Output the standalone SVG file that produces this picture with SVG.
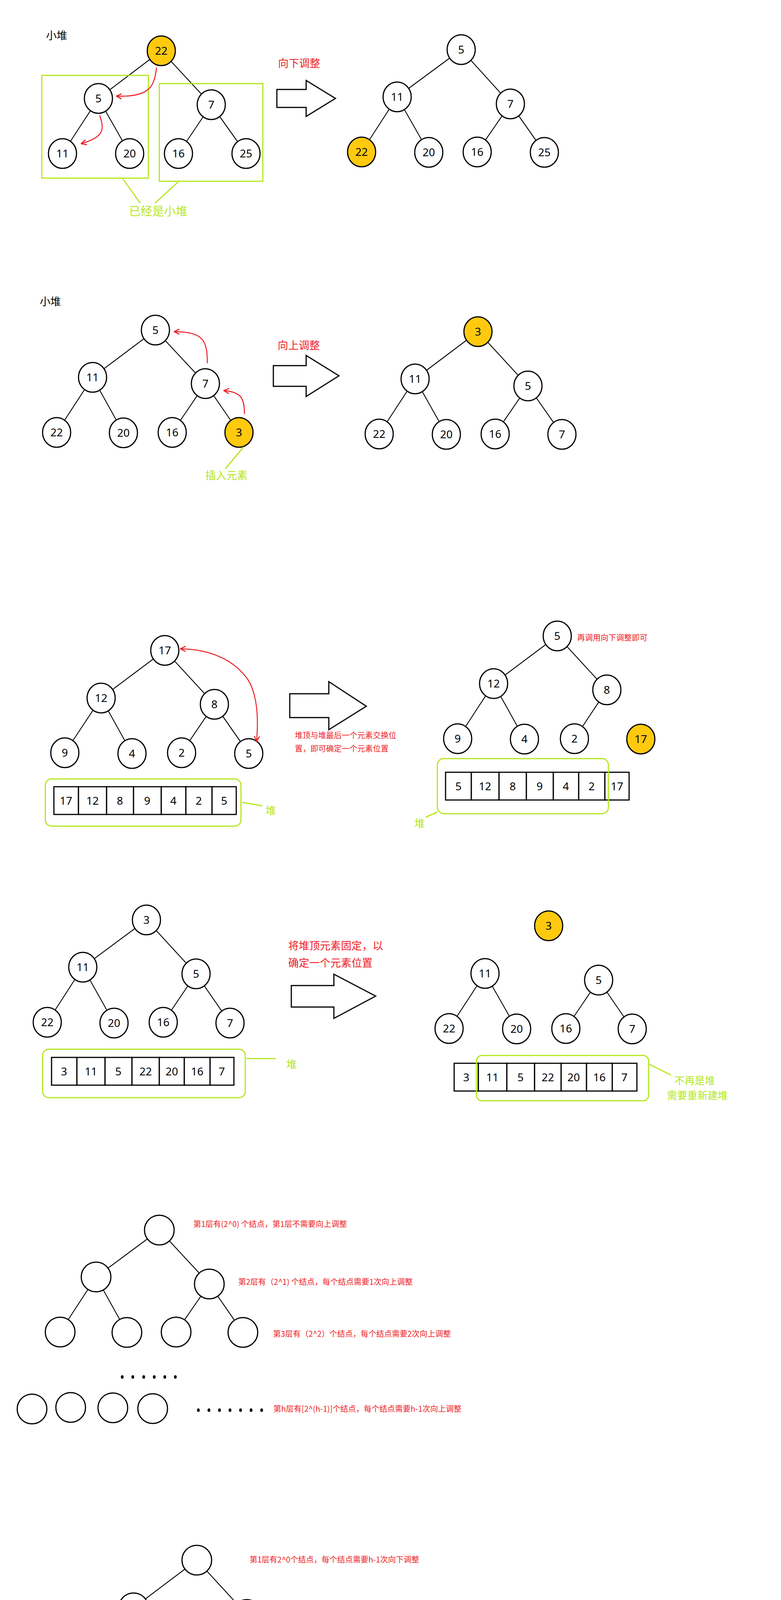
<svg xmlns="http://www.w3.org/2000/svg" width="2000" height="6000" viewBox="0 0 2000 6000">
<style>
.bg{fill:#ffffff}
.n{fill:#ffffff;stroke:#000;stroke-width:3}
.y{fill:#FFC90E}
.p{fill:#FFAEC9}
.e line{stroke:#000;stroke-width:2.2}
.nt{font-family:"Noto Sans","Noto Sans CJK SC",sans-serif;font-size:28px;text-anchor:middle;fill:#000}
.cell{fill:#fff;stroke:#000;stroke-width:3}
.gb{fill:none;stroke:#B5E61D;stroke-width:3}
.gl{stroke:#B5E61D;stroke-width:3;fill:none}
.ra{fill:none;stroke:#ED1C24;stroke-width:2.5}
.big{fill:#fff;stroke:#000;stroke-width:3;stroke-linejoin:miter}
.cj{font-family:"Noto Sans CJK SC","Noto Sans",sans-serif}
.lb{font-size:27px}
.sm{font-size:20px}
.red{fill:#ED1C24}
.grn{fill:#B5E61D}
.org{fill:#FF7F27}
.blk{fill:#000}
.dot{fill:#000}
</style>
<defs>
<marker id="ah" viewBox="0 0 12 12" refX="11" refY="6" markerWidth="16" markerHeight="16" markerUnits="userSpaceOnUse" orient="auto-start-reverse"><path d="M1,1 L11,6 L1,11" fill="none" stroke="#ED1C24" stroke-width="2"/></marker>
</defs>
<rect class="bg" x="0" y="0" width="2000" height="6000"/>

<!-- ============ SECTION 1 ============ -->
<text class="cj lb blk" x="118" y="101">小堆</text>
<g id="s1-conn" class="e">
<line x1="413" y1="130" x2="252" y2="252"/><line x1="413" y1="130" x2="541" y2="268"/>
<line x1="252" y1="252" x2="160" y2="393"/><line x1="252" y1="252" x2="332" y2="393"/>
<line x1="541" y1="268" x2="457" y2="393"/><line x1="541" y1="268" x2="630" y2="393"/>
<line x1="1181" y1="127" x2="1017" y2="248"/><line x1="1181" y1="127" x2="1307" y2="266"/>
<line x1="1017" y1="248" x2="926" y2="389"/><line x1="1017" y1="248" x2="1098" y2="390"/>
<line x1="1307" y1="266" x2="1222" y2="389"/><line x1="1307" y1="266" x2="1394" y2="390"/>
</g>
<g id="s1-l-22"><ellipse class="n y" cx="413" cy="130" rx="36" ry="38"/><text class="nt" x="413" y="140">22</text></g>
<g id="s1-l-5"><ellipse class="n" cx="252" cy="252" rx="36" ry="38"/><text class="nt" x="252" y="262">5</text></g>
<g id="s1-l-7"><ellipse class="n" cx="541" cy="268" rx="36" ry="38"/><text class="nt" x="541" y="278">7</text></g>
<g id="s1-l-11"><ellipse class="n" cx="160" cy="393" rx="36" ry="38"/><text class="nt" x="160" y="403">11</text></g>
<g id="s1-l-20"><ellipse class="n" cx="332" cy="393" rx="36" ry="38"/><text class="nt" x="332" y="403">20</text></g>
<g id="s1-l-16"><ellipse class="n" cx="457" cy="393" rx="36" ry="38"/><text class="nt" x="457" y="403">16</text></g>
<g id="s1-l-25"><ellipse class="n" cx="630" cy="393" rx="36" ry="38"/><text class="nt" x="630" y="403">25</text></g>
<g id="s1-r-5"><ellipse class="n" cx="1181" cy="127" rx="36" ry="38"/><text class="nt" x="1181" y="137">5</text></g>
<g id="s1-r-11"><ellipse class="n" cx="1017" cy="248" rx="36" ry="38"/><text class="nt" x="1017" y="258">11</text></g>
<g id="s1-r-7"><ellipse class="n" cx="1307" cy="266" rx="36" ry="38"/><text class="nt" x="1307" y="276">7</text></g>
<g id="s1-r-22"><ellipse class="n y" cx="926" cy="389" rx="36" ry="38"/><text class="nt" x="926" y="399">22</text></g>
<g id="s1-r-20"><ellipse class="n" cx="1098" cy="390" rx="36" ry="38"/><text class="nt" x="1098" y="400">20</text></g>
<g id="s1-r-16"><ellipse class="n" cx="1222" cy="389" rx="36" ry="38"/><text class="nt" x="1222" y="399">16</text></g>
<g id="s1-r-25"><ellipse class="n" cx="1394" cy="390" rx="36" ry="38"/><text class="nt" x="1394" y="400">25</text></g>
<g id="s1-anno">
<rect class="gb" x="107" y="193" width="273" height="263"/>
<rect class="gb" x="408" y="214" width="265" height="250"/>
<line class="gl" x1="314" y1="457" x2="359" y2="520"/>
<line class="gl" x1="457" y1="465" x2="397" y2="520"/>
<text class="cj grn" style="font-size:30px" x="330" y="551">已经是小堆</text>
<path class="ra" d="M401,173 C395,215 390,250 298,246" marker-end="url(#ah)"/>
<path class="ra" d="M255,295 C270,335 262,352 208,368" marker-end="url(#ah)"/>
<text class="cj lb red" x="712" y="172">向下调整</text>
<polygon class="big" points="709,229 784,229 784,206 859,252 784,298 784,275 709,275"/>
</g>

<!-- ============ SECTION 2 ============ -->
<text class="cj lb blk" x="102" y="782">小堆</text>
<g id="s2-conn" class="e">
<line x1="398" y1="845" x2="237" y2="966"/><line x1="398" y1="845" x2="526" y2="982"/>
<line x1="237" y1="966" x2="145" y2="1107"/><line x1="237" y1="966" x2="316" y2="1108"/>
<line x1="526" y1="982" x2="441" y2="1107"/><line x1="526" y1="982" x2="612" y2="1107"/>
<line x1="1224" y1="849" x2="1063" y2="970"/><line x1="1224" y1="849" x2="1352" y2="988"/>
<line x1="1063" y1="970" x2="971" y2="1111"/><line x1="1063" y1="970" x2="1143" y2="1112"/>
<line x1="1352" y1="988" x2="1268" y2="1111"/><line x1="1352" y1="988" x2="1439" y2="1112"/>
</g>
<g id="s2-l-5"><ellipse class="n" cx="398" cy="845" rx="36" ry="38"/><text class="nt" x="398" y="855">5</text></g>
<g id="s2-l-11"><ellipse class="n" cx="237" cy="966" rx="36" ry="38"/><text class="nt" x="237" y="976">11</text></g>
<g id="s2-l-7"><ellipse class="n" cx="526" cy="982" rx="36" ry="38"/><text class="nt" x="526" y="992">7</text></g>
<g id="s2-l-22"><ellipse class="n" cx="145" cy="1107" rx="36" ry="38"/><text class="nt" x="145" y="1117">22</text></g>
<g id="s2-l-20"><ellipse class="n" cx="316" cy="1108" rx="36" ry="38"/><text class="nt" x="316" y="1118">20</text></g>
<g id="s2-l-16"><ellipse class="n" cx="441" cy="1107" rx="36" ry="38"/><text class="nt" x="441" y="1117">16</text></g>
<g id="s2-l-3"><ellipse class="n y" cx="612" cy="1107" rx="36" ry="38"/><text class="nt" x="612" y="1117">3</text></g>
<g id="s2-r-3"><ellipse class="n y" cx="1224" cy="849" rx="36" ry="38"/><text class="nt" x="1224" y="859">3</text></g>
<g id="s2-r-11"><ellipse class="n" cx="1063" cy="970" rx="36" ry="38"/><text class="nt" x="1063" y="980">11</text></g>
<g id="s2-r-5"><ellipse class="n" cx="1352" cy="988" rx="36" ry="38"/><text class="nt" x="1352" y="998">5</text></g>
<g id="s2-r-22"><ellipse class="n" cx="971" cy="1111" rx="36" ry="38"/><text class="nt" x="971" y="1121">22</text></g>
<g id="s2-r-20"><ellipse class="n" cx="1143" cy="1112" rx="36" ry="38"/><text class="nt" x="1143" y="1122">20</text></g>
<g id="s2-r-16"><ellipse class="n" cx="1268" cy="1111" rx="36" ry="38"/><text class="nt" x="1268" y="1121">16</text></g>
<g id="s2-r-7"><ellipse class="n" cx="1439" cy="1112" rx="36" ry="38"/><text class="nt" x="1439" y="1122">7</text></g>
<g id="s2-anno">
<path class="ra" d="M531,930 C531,870 520,850 446,849" marker-end="url(#ah)"/>
<path class="ra" d="M626,1060 C626,1020 618,1003 573,1000" marker-end="url(#ah)"/>
<line class="gl" x1="624" y1="1144" x2="577" y2="1200"/>
<text class="cj lb grn" x="526" y="1227">插入元素</text>
<text class="cj lb red" x="711" y="894">向上调整</text>
<polygon class="big" points="700,936 784,936 784,910 868,962 784,1015 784,989 700,989"/>
</g>

<!-- ============ SECTION 3 ============ -->
<g id="s3-conn" class="e">
<line x1="422" y1="1665" x2="259" y2="1787"/><line x1="422" y1="1665" x2="549" y2="1803"/>
<line x1="259" y1="1787" x2="166" y2="1927"/><line x1="259" y1="1787" x2="338" y2="1929"/>
<line x1="549" y1="1803" x2="465" y2="1927"/><line x1="549" y1="1803" x2="637" y2="1929"/>
<line x1="1427" y1="1628" x2="1264" y2="1750"/><line x1="1427" y1="1628" x2="1554" y2="1766"/>
<line x1="1264" y1="1750" x2="1172" y2="1891"/><line x1="1264" y1="1750" x2="1343" y2="1892"/>
<line x1="1554" y1="1766" x2="1471" y2="1891"/>
</g>
<g id="s3-l-17"><ellipse class="n" cx="422" cy="1665" rx="36" ry="38"/><text class="nt" x="422" y="1675">17</text></g>
<g id="s3-l-12"><ellipse class="n" cx="259" cy="1787" rx="36" ry="38"/><text class="nt" x="259" y="1797">12</text></g>
<g id="s3-l-8"><ellipse class="n" cx="549" cy="1803" rx="36" ry="38"/><text class="nt" x="549" y="1813">8</text></g>
<g id="s3-l-9"><ellipse class="n" cx="166" cy="1927" rx="36" ry="38"/><text class="nt" x="166" y="1937">9</text></g>
<g id="s3-l-4"><ellipse class="n" cx="338" cy="1929" rx="36" ry="38"/><text class="nt" x="338" y="1939">4</text></g>
<g id="s3-l-2"><ellipse class="n" cx="465" cy="1927" rx="36" ry="38"/><text class="nt" x="465" y="1937">2</text></g>
<g id="s3-l-5"><ellipse class="n" cx="637" cy="1929" rx="36" ry="38"/><text class="nt" x="637" y="1939">5</text></g>
<g id="s3-r-5"><ellipse class="n" cx="1427" cy="1628" rx="36" ry="38"/><text class="nt" x="1427" y="1638">5</text></g>
<g id="s3-r-12"><ellipse class="n" cx="1264" cy="1750" rx="36" ry="38"/><text class="nt" x="1264" y="1760">12</text></g>
<g id="s3-r-8"><ellipse class="n" cx="1554" cy="1766" rx="36" ry="38"/><text class="nt" x="1554" y="1776">8</text></g>
<g id="s3-r-9"><ellipse class="n" cx="1172" cy="1891" rx="36" ry="38"/><text class="nt" x="1172" y="1901">9</text></g>
<g id="s3-r-4"><ellipse class="n" cx="1343" cy="1892" rx="36" ry="38"/><text class="nt" x="1343" y="1902">4</text></g>
<g id="s3-r-2"><ellipse class="n" cx="1471" cy="1891" rx="36" ry="38"/><text class="nt" x="1471" y="1901">2</text></g>
<g id="s3-r-17"><ellipse class="n y" cx="1641" cy="1892" rx="36" ry="38"/><text class="nt" x="1641" y="1902">17</text></g>
<g id="s3-arr-l">
<rect class="cell p" x="138" y="2014" width="63" height="71"/><text class="nt" x="169" y="2060">17</text>
<rect class="cell" x="201" y="2014" width="72" height="71"/><text class="nt" x="237" y="2060">12</text>
<rect class="cell" x="273" y="2014" width="69" height="71"/><text class="nt" x="307" y="2060">8</text>
<rect class="cell" x="342" y="2014" width="71" height="71"/><text class="nt" x="377" y="2060">9</text>
<rect class="cell" x="413" y="2014" width="63" height="71"/><text class="nt" x="444" y="2060">4</text>
<rect class="cell" x="476" y="2014" width="67" height="71"/><text class="nt" x="509" y="2060">2</text>
<rect class="cell p" x="543" y="2014" width="62" height="71"/><text class="nt" x="574" y="2060">5</text>
</g>
<g id="s3-arr-r">
<rect class="cell" x="1141" y="1977" width="66" height="71"/><text class="nt" x="1174" y="2023">5</text>
<rect class="cell" x="1207" y="1977" width="71" height="71"/><text class="nt" x="1242" y="2023">12</text>
<rect class="cell" x="1278" y="1977" width="70" height="71"/><text class="nt" x="1313" y="2023">8</text>
<rect class="cell" x="1348" y="1977" width="69" height="71"/><text class="nt" x="1382" y="2023">9</text>
<rect class="cell" x="1417" y="1977" width="65" height="71"/><text class="nt" x="1449" y="2023">4</text>
<rect class="cell" x="1482" y="1977" width="67" height="71"/><text class="nt" x="1515" y="2023">2</text>
<rect class="cell y" x="1549" y="1977" width="62" height="71"/><text class="nt" x="1580" y="2023">17</text>
</g>
<g id="s3-anno">
<path class="ra" d="M462,1661 C540,1662 600,1690 635,1740 C660,1780 662,1840 657,1898" marker-start="url(#ah)" marker-end="url(#ah)"/>
<rect class="gb" x="116" y="1994" width="501" height="121" rx="16"/>
<line class="gl" x1="620" y1="2054" x2="672" y2="2063"/>
<text class="cj lb grn" x="680" y="2085">堆</text>
<rect class="gb" x="1120" y="1942" width="438" height="141" rx="16"/>
<line class="gl" x1="1120" y1="2079" x2="1090" y2="2092"/>
<text class="cj lb grn" x="1061" y="2118">堆</text>
<polygon class="big" points="742,1776 842,1776 842,1745 938,1808 842,1868 842,1837 742,1837"/>
<text class="cj sm red" x="755" y="1890">堆顶与堆最后一个元素交换位</text>
<text class="cj sm red" x="755" y="1924">置，即可确定一个元素位置</text>
<text class="cj sm red" x="1478" y="1640">再调用向下调整即可</text>
</g>

<!-- ============ SECTION 4 ============ -->
<g id="s4-conn" class="e">
<line x1="375" y1="2355" x2="212" y2="2476"/><line x1="375" y1="2355" x2="502" y2="2493"/>
<line x1="212" y1="2476" x2="121" y2="2617"/><line x1="212" y1="2476" x2="292" y2="2619"/>
<line x1="502" y1="2493" x2="418" y2="2617"/><line x1="502" y1="2493" x2="589" y2="2619"/>
<line x1="1242" y1="2492" x2="1150" y2="2633"/><line x1="1242" y1="2492" x2="1323" y2="2634"/>
<line x1="1533" y1="2509" x2="1449" y2="2633"/><line x1="1533" y1="2509" x2="1619" y2="2634"/>
</g>
<g id="s4-l-3"><ellipse class="n" cx="375" cy="2355" rx="36" ry="38"/><text class="nt" x="375" y="2365">3</text></g>
<g id="s4-l-11"><ellipse class="n" cx="212" cy="2476" rx="36" ry="38"/><text class="nt" x="212" y="2486">11</text></g>
<g id="s4-l-5"><ellipse class="n" cx="502" cy="2493" rx="36" ry="38"/><text class="nt" x="502" y="2503">5</text></g>
<g id="s4-l-22"><ellipse class="n" cx="121" cy="2617" rx="36" ry="38"/><text class="nt" x="121" y="2627">22</text></g>
<g id="s4-l-20"><ellipse class="n" cx="292" cy="2619" rx="36" ry="38"/><text class="nt" x="292" y="2629">20</text></g>
<g id="s4-l-16"><ellipse class="n" cx="418" cy="2617" rx="36" ry="38"/><text class="nt" x="418" y="2627">16</text></g>
<g id="s4-l-7"><ellipse class="n" cx="589" cy="2619" rx="36" ry="38"/><text class="nt" x="589" y="2629">7</text></g>
<g id="s4-r-3"><ellipse class="n y" cx="1405" cy="2370" rx="36" ry="38"/><text class="nt" x="1405" y="2380">3</text></g>
<g id="s4-r-11"><ellipse class="n" cx="1242" cy="2492" rx="36" ry="38"/><text class="nt" x="1242" y="2502">11</text></g>
<g id="s4-r-5"><ellipse class="n" cx="1533" cy="2509" rx="36" ry="38"/><text class="nt" x="1533" y="2519">5</text></g>
<g id="s4-r-22"><ellipse class="n" cx="1150" cy="2633" rx="36" ry="38"/><text class="nt" x="1150" y="2643">22</text></g>
<g id="s4-r-20"><ellipse class="n" cx="1323" cy="2634" rx="36" ry="38"/><text class="nt" x="1323" y="2644">20</text></g>
<g id="s4-r-16"><ellipse class="n" cx="1449" cy="2633" rx="36" ry="38"/><text class="nt" x="1449" y="2643">16</text></g>
<g id="s4-r-7"><ellipse class="n" cx="1619" cy="2634" rx="36" ry="38"/><text class="nt" x="1619" y="2644">7</text></g>
<g id="s4-arr-l">
<rect class="cell" x="132" y="2707" width="65" height="71"/><text class="nt" x="164" y="2753">3</text>
<rect class="cell" x="197" y="2707" width="72" height="71"/><text class="nt" x="233" y="2753">11</text>
<rect class="cell" x="269" y="2707" width="69" height="71"/><text class="nt" x="303" y="2753">5</text>
<rect class="cell" x="338" y="2707" width="70" height="71"/><text class="nt" x="373" y="2753">22</text>
<rect class="cell" x="408" y="2707" width="64" height="71"/><text class="nt" x="440" y="2753">20</text>
<rect class="cell" x="472" y="2707" width="66" height="71"/><text class="nt" x="505" y="2753">16</text>
<rect class="cell" x="538" y="2707" width="61" height="71"/><text class="nt" x="568" y="2753">7</text>
</g>
<g id="s4-arr-r">
<rect class="cell y" x="1163" y="2722" width="62" height="71"/><text class="nt" x="1194" y="2768">3</text>
<rect class="cell" x="1225" y="2722" width="73" height="71"/><text class="nt" x="1261" y="2768">11</text>
<rect class="cell" x="1298" y="2722" width="71" height="71"/><text class="nt" x="1333" y="2768">5</text>
<rect class="cell" x="1369" y="2722" width="68" height="71"/><text class="nt" x="1403" y="2768">22</text>
<rect class="cell" x="1437" y="2722" width="65" height="71"/><text class="nt" x="1469" y="2768">20</text>
<rect class="cell" x="1502" y="2722" width="66" height="71"/><text class="nt" x="1535" y="2768">16</text>
<rect class="cell" x="1568" y="2722" width="63" height="71"/><text class="nt" x="1599" y="2768">7</text>
</g>
<g id="s4-anno">
<rect class="gb" x="109" y="2686" width="519" height="124" rx="16"/>
<line class="gl" x1="631" y1="2710" x2="706" y2="2710"/>
<text class="cj lb grn" x="733" y="2735">堆</text>
<rect class="gb" x="1220" y="2702" width="441" height="116" rx="14"/>
<line class="gl" x1="1662" y1="2724" x2="1718" y2="2752"/>
<text class="cj grn" style="font-size:26px" x="1727" y="2776">不再是堆</text>
<text class="cj grn" style="font-size:26px" x="1708" y="2814">需要重新建堆</text>
<text class="cj lb red" x="738" y="2431">将堆顶元素固定，以</text>
<text class="cj lb red" x="738" y="2475">确定一个元素位置</text>
<polygon class="big" points="746,2523 855,2523 855,2494 962,2550 855,2607 855,2578 746,2578"/>
</g>

<!-- ============ SECTION 5 ============ -->
<g id="s5-conn" class="e">
<line x1="408" y1="3149" x2="246" y2="3269"/><line x1="408" y1="3149" x2="536" y2="3287"/>
<line x1="246" y1="3269" x2="154" y2="3410"/><line x1="246" y1="3269" x2="325" y2="3411"/>
<line x1="536" y1="3287" x2="451" y2="3410"/><line x1="536" y1="3287" x2="622" y2="3411"/>
</g>
<g id="s5-nodes">
<ellipse id="s5-n1" class="n" cx="408" cy="3149" rx="38" ry="38"/>
<ellipse id="s5-n2" class="n" cx="246" cy="3269" rx="38" ry="38"/>
<ellipse id="s5-n3" class="n" cx="536" cy="3287" rx="38" ry="38"/>
<ellipse id="s5-n4" class="n" cx="154" cy="3410" rx="38" ry="38"/>
<ellipse id="s5-n5" class="n" cx="325" cy="3411" rx="38" ry="38"/>
<ellipse id="s5-n6" class="n" cx="451" cy="3410" rx="38" ry="38"/>
<ellipse id="s5-n7" class="n" cx="622" cy="3411" rx="38" ry="38"/>
<ellipse id="s5-n8" class="n" cx="82" cy="3607" rx="38" ry="38"/>
<ellipse id="s5-n9" class="n" cx="181" cy="3603" rx="38" ry="38"/>
<ellipse id="s5-n10" class="n" cx="289" cy="3604" rx="38" ry="38"/>
<ellipse id="s5-n11" class="n" cx="391" cy="3606" rx="38" ry="38"/>
</g>
<g id="s5-dots" class="dot">
<ellipse cx="313" cy="3525" rx="3.5" ry="4.5"/><ellipse cx="340" cy="3525" rx="3.5" ry="4.5"/><ellipse cx="368" cy="3525" rx="3.5" ry="4.5"/><ellipse cx="395" cy="3525" rx="3.5" ry="4.5"/><ellipse cx="422" cy="3525" rx="3.5" ry="4.5"/><ellipse cx="449" cy="3525" rx="3.5" ry="4.5"/>
<ellipse cx="508" cy="3610" rx="3.5" ry="4.5"/><ellipse cx="535" cy="3610" rx="3.5" ry="4.5"/><ellipse cx="562" cy="3610" rx="3.5" ry="4.5"/><ellipse cx="589" cy="3610" rx="3.5" ry="4.5"/><ellipse cx="616" cy="3610" rx="3.5" ry="4.5"/><ellipse cx="643" cy="3610" rx="3.5" ry="4.5"/><ellipse cx="670" cy="3610" rx="3.5" ry="4.5"/>
</g>
<g id="s5-text" class="cj sm red">
<text x="495" y="3141">第1层有(2^0) 个结点，第1层不需要向上调整</text>
<text x="610" y="3289">第2层有（2^1) 个结点，每个结点需要1次向上调整</text>
<text x="699" y="3422">第3层有（2^2）个结点，每个结点需要2次向上调整</text>
<text x="700" y="3614">第h层有[2^(h-1)]个结点，每个结点需要h-1次向上调整</text>
</g>

<!-- ============ SECTION 6 ============ -->
<g id="s6-conn" class="e">
<line x1="504" y1="3994" x2="342" y2="4116"/><line x1="504" y1="3994" x2="632" y2="4133"/>
<line x1="342" y1="4116" x2="251" y2="4257"/><line x1="342" y1="4116" x2="422" y2="4258"/>
<line x1="632" y1="4133" x2="548" y2="4257"/><line x1="632" y1="4133" x2="719" y2="4258"/>
<line x1="143" y1="4448" x2="86" y2="4589"/><line x1="143" y1="4448" x2="185" y2="4585"/>
<line x1="342" y1="4447" x2="294" y2="4587"/><line x1="342" y1="4447" x2="395" y2="4589"/>
<line x1="550" y1="4446" x2="498" y2="4589"/><line x1="550" y1="4446" x2="599" y2="4591"/>
</g>
<g id="s6-nodes">
<ellipse id="s6-n1" class="n" cx="504" cy="3994" rx="38" ry="38"/>
<ellipse id="s6-n2" class="n" cx="342" cy="4116" rx="38" ry="38"/>
<ellipse id="s6-n3" class="n" cx="632" cy="4133" rx="38" ry="38"/>
<ellipse id="s6-n4" class="n" cx="251" cy="4257" rx="38" ry="38"/>
<ellipse id="s6-n5" class="n" cx="422" cy="4258" rx="38" ry="38"/>
<ellipse id="s6-n6" class="n" cx="548" cy="4257" rx="38" ry="38"/>
<ellipse id="s6-n7" class="n" cx="719" cy="4258" rx="38" ry="38"/>
<ellipse id="s6-n8" class="n" cx="143" cy="4448" rx="38" ry="38"/>
<ellipse id="s6-n9" class="n" cx="342" cy="4447" rx="38" ry="38"/>
<ellipse id="s6-n10" class="n" cx="550" cy="4446" rx="38" ry="38"/>
<ellipse id="s6-n11" class="n" cx="86" cy="4589" rx="38" ry="38"/>
<ellipse id="s6-n12" class="n" cx="185" cy="4585" rx="38" ry="38"/>
<ellipse id="s6-n13" class="n" cx="294" cy="4587" rx="38" ry="38"/>
<ellipse id="s6-n14" class="n" cx="395" cy="4589" rx="38" ry="38"/>
<ellipse id="s6-n15" class="n" cx="498" cy="4589" rx="38" ry="38"/>
<ellipse id="s6-n16" class="n" cx="599" cy="4591" rx="38" ry="38"/>
</g>
<g id="s6-dots" class="dot">
<ellipse cx="410" cy="4372" rx="3.5" ry="4.5"/><ellipse cx="437" cy="4372" rx="3.5" ry="4.5"/><ellipse cx="464" cy="4372" rx="3.5" ry="4.5"/><ellipse cx="492" cy="4372" rx="3.5" ry="4.5"/><ellipse cx="519" cy="4372" rx="3.5" ry="4.5"/><ellipse cx="546" cy="4372" rx="3.5" ry="4.5"/>
<ellipse cx="612" cy="4446" rx="3.5" ry="4.5"/><ellipse cx="639" cy="4446" rx="3.5" ry="4.5"/><ellipse cx="666" cy="4446" rx="3.5" ry="4.5"/><ellipse cx="693" cy="4446" rx="3.5" ry="4.5"/><ellipse cx="721" cy="4446" rx="3.5" ry="4.5"/><ellipse cx="748" cy="4446" rx="3.5" ry="4.5"/><ellipse cx="775" cy="4446" rx="3.5" ry="4.5"/>
<ellipse cx="682" cy="4589" rx="3.5" ry="4.5"/><ellipse cx="709" cy="4589" rx="3.5" ry="4.5"/><ellipse cx="736" cy="4589" rx="3.5" ry="4.5"/><ellipse cx="763" cy="4589" rx="3.5" ry="4.5"/><ellipse cx="791" cy="4589" rx="3.5" ry="4.5"/><ellipse cx="818" cy="4589" rx="3.5" ry="4.5"/><ellipse cx="845" cy="4589" rx="3.5" ry="4.5"/>
</g>
<g id="s6-text" class="cj sm red">
<text x="639" y="4000">第1层有2^0个结点，每个结点需要h-1次向下调整</text>
<text x="771" y="4146">第2层有2^1个结点，每个结点需要h-2向下调整</text>
<text x="821" y="4267">第3层有2^2个结点，每个结点需要h-3次向下调整</text>
<text x="835" y="4454">第h-1层有2^(h-2)个结点，每个结点需要1次向下调整</text>
<text x="924" y="4598">第h层有2^(h-1)个结点，最后一层不需要向下调整</text>
</g>

<!-- ============ SECTION 7 ============ -->
<g id="s7-conn" class="e">
<line x1="532" y1="4804" x2="369" y2="4925"/><line x1="532" y1="4804" x2="659" y2="4943"/>
<line x1="369" y1="4925" x2="278" y2="5066"/><line x1="369" y1="4925" x2="449" y2="5067"/>
<line x1="659" y1="4943" x2="574" y2="5066"/><line x1="659" y1="4943" x2="746" y2="5067"/>
<line x1="174" y1="5197" x2="117" y2="5338"/><line x1="174" y1="5197" x2="217" y2="5333"/>
<line x1="374" y1="5196" x2="324" y2="5335"/><line x1="374" y1="5196" x2="425" y2="5337"/>
<line x1="580" y1="5195" x2="529" y2="5338"/><line x1="580" y1="5195" x2="630" y2="5340"/>
</g>
<g id="s7-nodes">
<ellipse id="s7-n1" class="n" cx="532" cy="4804" rx="38" ry="38"/>
<ellipse id="s7-n2" class="n" cx="369" cy="4925" rx="38" ry="38"/>
<ellipse id="s7-n3" class="n" cx="659" cy="4943" rx="38" ry="38"/>
<ellipse id="s7-n4" class="n" cx="278" cy="5066" rx="38" ry="38"/>
<ellipse id="s7-n5" class="n" cx="449" cy="5067" rx="38" ry="38"/>
<ellipse id="s7-n6" class="n" cx="574" cy="5066" rx="38" ry="38"/>
<ellipse id="s7-n7" class="n" cx="746" cy="5067" rx="38" ry="38"/>
<ellipse id="s7-n8" class="n" cx="174" cy="5197" rx="38" ry="38"/>
<ellipse id="s7-n9" class="n" cx="374" cy="5196" rx="38" ry="38"/>
<ellipse id="s7-n10" class="n" cx="580" cy="5195" rx="38" ry="38"/>
<ellipse id="s7-n11" class="n" cx="117" cy="5338" rx="38" ry="38"/>
<ellipse id="s7-n12" class="n" cx="217" cy="5333" rx="38" ry="38"/>
<ellipse id="s7-n13" class="n" cx="324" cy="5335" rx="38" ry="38"/>
<ellipse id="s7-n14" class="n" cx="425" cy="5337" rx="38" ry="38"/>
<ellipse id="s7-n15" class="n" cx="529" cy="5338" rx="38" ry="38"/>
<ellipse id="s7-n16" class="n" cx="630" cy="5340" rx="38" ry="38"/>
</g>
<g id="s7-dots" class="dot">
<ellipse cx="441" cy="5137" rx="3.5" ry="4.5"/><ellipse cx="468" cy="5137" rx="3.5" ry="4.5"/><ellipse cx="495" cy="5137" rx="3.5" ry="4.5"/><ellipse cx="522" cy="5137" rx="3.5" ry="4.5"/><ellipse cx="549" cy="5137" rx="3.5" ry="4.5"/><ellipse cx="576" cy="5137" rx="3.5" ry="4.5"/>
<ellipse cx="643" cy="5195" rx="3.5" ry="4.5"/><ellipse cx="670" cy="5195" rx="3.5" ry="4.5"/><ellipse cx="698" cy="5195" rx="3.5" ry="4.5"/><ellipse cx="725" cy="5195" rx="3.5" ry="4.5"/><ellipse cx="752" cy="5195" rx="3.5" ry="4.5"/><ellipse cx="780" cy="5195" rx="3.5" ry="4.5"/><ellipse cx="807" cy="5195" rx="3.5" ry="4.5"/>
<ellipse cx="713" cy="5337" rx="3.5" ry="4.5"/><ellipse cx="740" cy="5337" rx="3.5" ry="4.5"/><ellipse cx="768" cy="5337" rx="3.5" ry="4.5"/><ellipse cx="795" cy="5337" rx="3.5" ry="4.5"/><ellipse cx="823" cy="5337" rx="3.5" ry="4.5"/><ellipse cx="850" cy="5337" rx="3.5" ry="4.5"/><ellipse cx="878" cy="5337" rx="3.5" ry="4.5"/>
</g>
<g id="s7-text" class="cj sm red">
<text x="713" y="4803">第1层，2^0个结点，无需向下调整</text>
<text x="765" y="4946">第2层，2^1个结点，每个结点换到第1层后需要1次向下调整</text>
<text x="824" y="5086">第3层，2^2个结点，每个结点换到第1层后需要2次向下调整</text>
<text x="870" y="5201">第h-1层，2^(h-2)个结点，每个结点换到第1层后需要h-2次向下调整</text>
<text x="933" y="5341">第h层，2^(h-1)个结点，每个结点换到第1层后需要h-1次向下调整</text>
</g>
<g id="s7-note" class="cj sm org">
<text x="903" y="5394">但是h层实际只有2^(h-1)-1次h-1的向下调整，因为向下调整发生在交换</text>
<text x="903" y="5429">后，当该层最左侧结点交换完成后，紧接着发生的向下调整最多只有h-2</text>
<text x="903" y="5464">次，因为此时最后一层不再有空位。</text>
<text x="903" y="5499">向下调整是为了选出最大值，因为初始时堆顶已经有了最大值，所以相当于</text>
<text x="903" y="5534">最后一个结点省去了向下调整</text>
</g>
</svg>
